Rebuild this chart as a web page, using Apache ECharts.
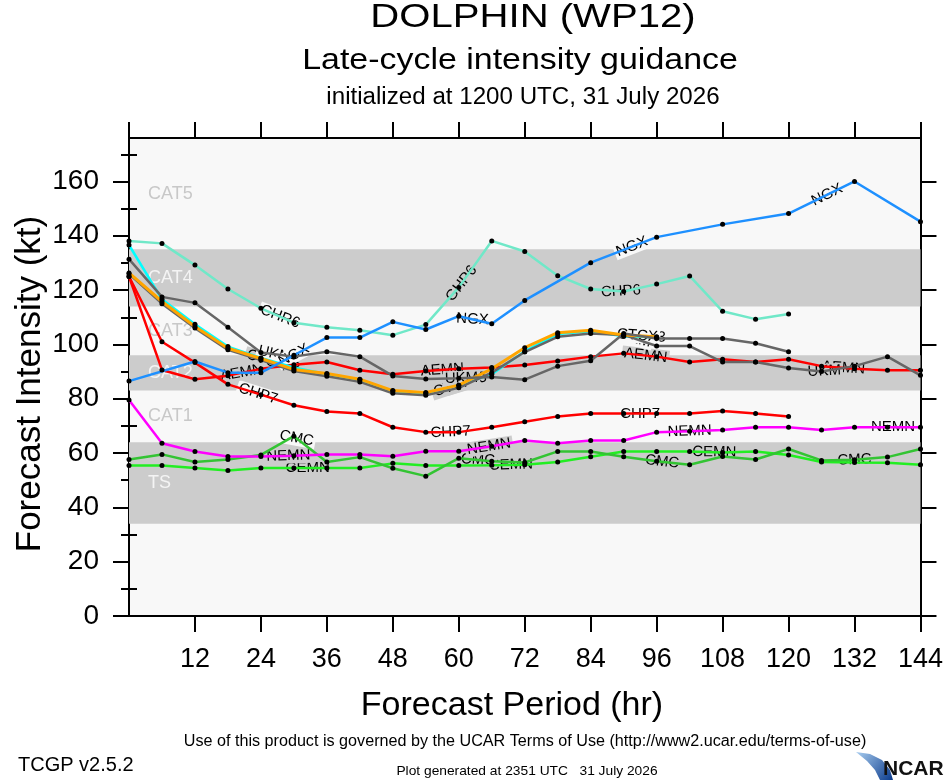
<!DOCTYPE html>
<html>
<head>
<meta charset="utf-8">
<script src="https://cdn.jsdelivr.net/npm/echarts@6/dist/echarts.min.js"></script>
<style>
  html, body { margin: 0; padding: 0; background: #fff; }
  #chart { width: 946px; height: 780px; }
</style>
</head>
<body>
<div id="chart"></div>
<script>
// forecast intensity (kt) per model, [hour, kt]
var cemn = [[0,55.4],[6,55.4],[12,54.5],[18,53.6],[24,54.5],[30,54.5],[36,54.5],[42,54.5],[48,56.2],[54,55.4],[60,55.4],[66,55.5],[72,55.7],[78,56.7],[84,58.6],[90,60.6],[96,60.6],[102,60.6],[108,60.2],[114,60.6],[120,59.3],[126,56.7],[132,56.5],[138,56.4],[144,55.7]];
var cmc = [[0,57.6],[6,59.5],[12,56.7],[18,57.6],[24,59.3],[30,66.2],[36,56.7],[42,58.5],[48,54.4],[54,51.5],[60,58.1],[66,57],[72,56.5],[78,60.6],[84,60.6],[90,58.6],[96,57],[102,55.7],[108,58.7],[114,57.6],[120,61.5],[126,57.3],[132,57.5],[138,58.5],[144,61.5]];
var nemn = [[0,79.5],[6,63.6],[12,60.6],[18,58.7],[24,58.7],[30,59],[36,59.5],[42,59.5],[48,58.8],[54,60.7],[60,60.7],[66,62.5],[72,64.6],[78,63.6],[84,64.6],[90,64.6],[96,67.7],[102,68],[108,68.5],[114,69.5],[120,69.5],[126,68.5],[132,69.5],[138,69.5],[144,69.5]];
var chp7 = [[0,125],[6,101],[12,93.3],[18,85.3],[24,81.5],[30,77.6],[36,75.3],[42,74.6],[48,69.5],[54,67.7],[60,67.7],[66,69.5],[72,71.5],[78,73.5],[84,74.6],[90,74.6],[96,74.6],[102,74.6],[108,75.5],[114,74.6],[120,73.5]];
var aemn = [[0,125],[6,90.6],[12,87.2],[18,88.5],[24,91],[30,92.5],[36,93.5],[42,90.5],[48,89],[54,90.2],[60,91],[66,91.5],[72,92.4],[78,93.9],[84,95.5],[90,96.7],[96,95.5],[102,93.5],[108,94.5],[114,93.5],[120,94.5],[126,92],[132,91],[138,90.5],[144,90.5]];
var chp3 = [[0,136.6],[6,116.6],[12,107.4],[18,99.2],[24,95],[30,91.5],[36,89],[42,87],[48,82.8],[54,82],[60,85],[66,89],[72,97.5],[78,103.8],[84,104.8],[90,103],[96,102.6]];
var ukx = [[0,126],[6,115],[12,106],[18,98],[24,94.2],[30,90.2],[36,88.3],[42,86.2],[48,82],[54,81.3],[60,84],[66,89.6],[72,97.2],[78,102.8],[84,104],[90,103.5],[96,99.4],[102,99.4],[108,93.5],[114,93.5],[120,91.3],[126,90],[132,92],[138,95.5],[144,88.6]];
var ctcx = [[0,126.3],[6,115.8],[12,106.6],[18,98.6],[24,94.8],[30,90.8],[36,89.3],[42,87.2],[48,83],[54,82.3],[60,85],[66,91],[72,98.8],[78,104.3],[84,105.2],[90,103.5],[96,102.8]];
var ukm = [[0,131.4],[6,117.5],[12,115.3],[18,106.3],[24,97],[30,95.5],[36,97.3],[42,95.5],[48,88.4],[54,87.3],[60,87.5],[66,88],[72,87],[78,92],[84,94],[90,104],[96,102.2],[102,102.2],[108,102.2],[114,100.4],[120,97.3]];
var chp6 = [[0,138.1],[6,137.2],[12,129.2],[18,120.4],[24,113.3],[30,108],[36,106.3],[42,105.2],[48,103.4],[54,107.3],[60,121],[66,138.1],[72,134.2],[78,125.3],[84,120.4],[90,119.5],[96,122.2],[102,125.2],[108,112.2],[114,109.3],[120,111.2]];
var ngx = [[0,86.5],[12,93.7],[18,89.6],[24,89.6],[30,96],[36,102.5],[42,102.5],[48,108.3],[54,105.5],[60,110.4],[66,107.6],[72,116.2],[84,130.1],[96,139.5],[108,144.2],[120,148.2],[132,160],[144,145.2]];

// hour at which each line label sits
var cemnLabelAt = [32.5, 69.5, 106.5];
var cmcLabelAt = [30.5, 63.5, 97, 132];
var nemnLabelAt = [29, 65.5, 102, 139];
var chp7LabelAt = [23.5, 58.5, 93];
var aemnLabelAt = [20.5, 57, 94, 130];
var chp3LabelAt = [27.5, 61.5, 94];
var ukxLabelAt = [92, 126.5];
var ctcxLabelAt = [25, 59, 92.5];
var ukmLabelAt = [26.5, 60.5];
var chp6LabelAt = [27.5, 60.5, 89.5];
var chp6LabelText = ['CHR6', 'GHP6', 'CHP6'];
var ngxLabelAt = [30, 62.5, 91.5, 127];

// intensity categories
var catNames = ['TS', 'CAT1', 'CAT2', 'CAT3', 'CAT4', 'CAT5'];
var catLow = [34, 64, 83, 96, 114, 135];
var catHigh = [64, 83, 96, 114, 135, 176];
var catShaded = [true, false, true, false, true, false];

var yMajor = [0, 20, 40, 60, 80, 100, 120, 140, 160];
var yMinor = [10, 30, 50, 70, 90, 110, 130, 150, 170];

var FONT = '"Liberation Sans", Helvetica, Arial, sans-serif';
var PLOT_BG = '#f8f8f8';
var BAND = '#cccccc';

function valueAt(data, h) {
    if (h <= data[0][0]) return data[0][1];
    for (var i = 0; i < data.length - 1; i++) {
        var a = data[i], b = data[i + 1];
        if (h >= a[0] && h <= b[0]) {
            return a[1] + (b[1] - a[1]) * (h - a[0]) / (b[0] - a[0]);
        }
    }
    return data[data.length - 1][1];
}

function bandColor(v) {
    for (var i = 0; i < catNames.length; i++) {
        if (catShaded[i] && v >= catLow[i] && v < catHigh[i]) return BAND;
    }
    return PLOT_BG;
}

var models = [
    {name: 'CEMN', color: '#22ee22', width: 2.5, data: cemn, at: cemnLabelAt},
    {name: 'CMC', color: '#33c433', width: 2.5, data: cmc, at: cmcLabelAt},
    {name: 'NEMN', color: '#ff00ff', width: 2.5, data: nemn, at: nemnLabelAt},
    {name: 'CHP7', color: '#ff0000', width: 2.5, data: chp7, at: chp7LabelAt},
    {name: 'AEMN', color: '#ff0000', width: 2.5, data: aemn, at: aemnLabelAt},
    {name: 'CHP3', color: '#00ffff', width: 2.5, data: chp3, at: chp3LabelAt},
    {name: 'UKM', color: '#666666', width: 2.5, data: ukx, at: ukxLabelAt},
    {name: 'CTCX', color: '#ffa500', width: 3, data: ctcx, at: ctcxLabelAt},
    {name: 'UKM', color: '#666666', width: 2.5, data: ukm, at: ukmLabelAt},
    {name: 'CHP6', color: '#70e8c8', width: 2.5, data: chp6, at: chp6LabelAt, texts: chp6LabelText},
    {name: 'NGX', color: '#1e90ff', width: 2.5, data: ngx, at: ngxLabelAt}
];

var series = [];

// category bands
var areas = [];
for (var i = 0; i < catNames.length; i++) {
    areas.push([
        {
            yAxis: catLow[i],
            name: catNames[i],
            itemStyle: {color: catShaded[i] ? BAND : 'rgba(0,0,0,0)'},
            label: {color: catShaded[i] ? '#f4f4f4' : '#c8c8c8'}
        },
        {yAxis: catHigh[i]}
    ]);
}
series.push({
    type: 'line',
    data: [],
    z: 1,
    silent: true,
    markArea: {
        silent: true,
        label: {
            show: true,
            position: 'insideLeft',
            distance: 19,
            fontSize: 18,
            fontFamily: FONT
        },
        data: areas
    }
});

models.forEach(function (m) {
    series.push({
        name: m.name,
        type: 'line',
        data: m.data,
        symbol: 'circle',
        symbolSize: 5,
        showAllSymbol: true,
        itemStyle: {color: '#000'},
        lineStyle: {color: m.color, width: m.width},
        silent: true
    });

    var items = [], texts = [], bgs = [];
    m.at.forEach(function (h, k) {
        var v = valueAt(m.data, h);
        var h1 = Math.max(m.data[0][0], h - 4);
        var h2 = Math.min(m.data[m.data.length - 1][0], h + 4);
        items.push([h, v, h1, valueAt(m.data, h1), h2, valueAt(m.data, h2)]);
        texts.push(m.texts ? m.texts[k] : m.name);
        bgs.push(bandColor(v));
    });
    series.push({
        type: 'custom',
        data: items,
        silent: true,
        clip: false,
        renderItem: function (params, api) {
            var p = api.coord([api.value(0), api.value(1)]);
            var a = api.coord([api.value(2), api.value(3)]);
            var b = api.coord([api.value(4), api.value(5)]);
            return {
                type: 'text',
                x: p[0],
                y: p[1],
                rotation: Math.atan2(a[1] - b[1], b[0] - a[0]),
                style: {
                    text: texts[params.dataIndex],
                    font: '15px ' + FONT,
                    fill: '#000',
                    align: 'center',
                    verticalAlign: 'middle',
                    backgroundColor: bgs[params.dataIndex],
                    padding: [0, 2]
                }
            };
        }
    });
});

var axisLine = {show: true, onZero: false, lineStyle: {color: '#000', width: 2}};
var tickStyle = {color: '#000', width: 2};

var option = {
    animation: false,
    backgroundColor: '#fff',
    grid: {
        left: 129, right: 23, top: 138, bottom: 164,
        show: true, backgroundColor: PLOT_BG, borderWidth: 0
    },
    xAxis: [
        {
            type: 'value', min: 0, max: 144, interval: 12, position: 'bottom',
            axisLine: axisLine,
            axisTick: {show: true, length: 16, lineStyle: tickStyle},
            axisLabel: {showMinLabel: false, fontSize: 27, color: '#000', fontFamily: FONT, margin: 30},
            splitLine: {show: false}
        },
        {
            type: 'value', min: 0, max: 144, interval: 12, position: 'top',
            axisLine: axisLine,
            axisTick: {show: true, length: 16, lineStyle: tickStyle},
            axisLabel: {show: false},
            splitLine: {show: false}
        }
    ],
    yAxis: [
        {
            type: 'value', min: 0, max: 176, position: 'left',
            axisLine: axisLine,
            axisTick: {show: true, length: 16, lineStyle: tickStyle, customValues: yMajor},
            axisLabel: {fontSize: 28, color: '#000', fontFamily: FONT, margin: 30, customValues: yMajor},
            splitLine: {show: false}
        },
        {
            type: 'value', min: 0, max: 176, position: 'left',
            axisLine: {show: false},
            axisTick: {show: true, length: 8, lineStyle: tickStyle, customValues: yMinor},
            axisLabel: {show: false},
            splitLine: {show: false}
        },
        {
            type: 'value', min: 0, max: 176, position: 'right',
            axisLine: axisLine,
            axisTick: {show: true, length: 16, lineStyle: tickStyle, customValues: yMajor},
            axisLabel: {show: false},
            splitLine: {show: false}
        },
        {
            type: 'value', min: 0, max: 176, position: 'right',
            axisLine: {show: false},
            axisTick: {show: true, length: 8, lineStyle: tickStyle, customValues: yMinor},
            axisLabel: {show: false},
            splitLine: {show: false}
        }
    ],
    graphic: [
        {type: 'text', x: 533, y: 18, scaleX: 1.18, style: {text: 'DOLPHIN (WP12)', font: '34px ' + FONT, fill: '#000', align: 'center', verticalAlign: 'middle'}},
        {type: 'text', x: 520, y: 61, scaleX: 1.17, style: {text: 'Late-cycle intensity guidance', font: '29px ' + FONT, fill: '#000', align: 'center', verticalAlign: 'middle'}},
        {type: 'text', x: 523, y: 98, scaleX: 1.05, style: {text: 'initialized at 1200 UTC, 31 July 2026', font: '23px ' + FONT, fill: '#000', align: 'center', verticalAlign: 'middle'}},
        {type: 'text', x: 512, y: 706, style: {text: 'Forecast Period (hr)', font: '34px ' + FONT, fill: '#000', align: 'center', verticalAlign: 'middle'}},
        {type: 'text', x: 30, y: 384, rotation: Math.PI / 2, style: {text: 'Forecast Intensity (kt)', font: '35px ' + FONT, fill: '#000', align: 'center', verticalAlign: 'middle'}},
        {type: 'text', x: 525, y: 742, scaleX: 1.01, style: {text: 'Use of this product is governed by the UCAR Terms of Use (http://www2.ucar.edu/terms-of-use)', font: '16px ' + FONT, fill: '#000', align: 'center', verticalAlign: 'middle'}},
        {type: 'text', x: 18, y: 765, style: {text: 'TCGP v2.5.2', font: '20px ' + FONT, fill: '#000', align: 'left', verticalAlign: 'middle'}},
        {type: 'text', x: 527, y: 771, scaleX: 1.06, style: {text: 'Plot generated at 2351 UTC   31 July 2026', font: '13px ' + FONT, fill: '#000', align: 'center', verticalAlign: 'middle'}},
        {
            type: 'polygon',
            shape: {points: [[856, 752], [870, 754], [882, 760], [890, 770], [893, 780], [880, 780], [875, 770], [867, 761]]},
            style: {
                fill: new echarts.graphic.LinearGradient(0, 0, 1, 1, [
                    {offset: 0, color: '#a8cdf0'},
                    {offset: 1, color: '#0a3a8c'}
                ])
            }
        },
        {type: 'text', x: 883, y: 769, style: {text: 'NCAR', font: 'bold 21px ' + FONT, fill: '#111', align: 'left', verticalAlign: 'middle'}}
    ],
    series: series
};

var myChart = echarts.init(document.getElementById('chart'));
myChart.setOption(option);
</script>
</body>
</html>
